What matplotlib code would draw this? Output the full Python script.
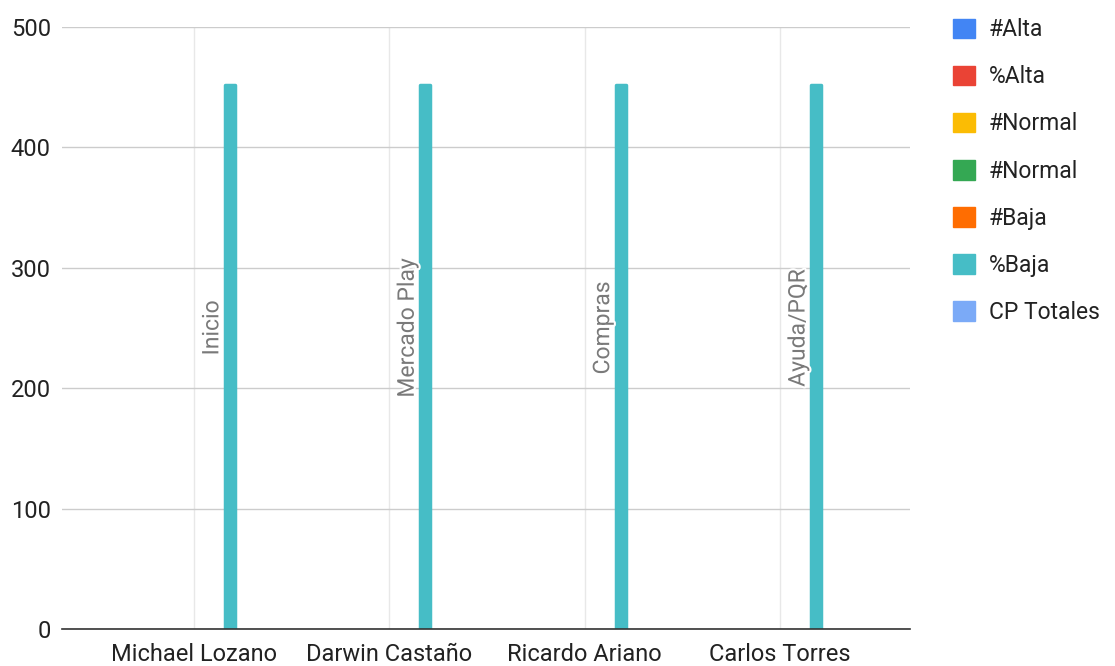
import matplotlib.pyplot as plt
import matplotlib.patheffects as pe
from matplotlib.patches import Patch
import numpy as np

plt.rcParams['font.family'] = ['Roboto', 'DejaVu Sans']

# Data
categories = ['Michael Lozano', 'Darwin Castaño', 'Ricardo Ariano', 'Carlos Torres']
series_names = ['#Alta', '%Alta', '#Normal', '#Normal', '#Baja', '%Baja', 'CP Totales']
series_colors = ['#4285F4', '#EA4335', '#FBBC04', '#34A853', '#FF6D01', '#46BDC6', '#7BAAF7']
alta_n = [0, 0, 0, 0]
alta_p = [0, 0, 0, 0]
normal_n = [0, 0, 0, 0]
normal_n2 = [0, 0, 0, 0]
baja_n = [0, 0, 0, 0]
baja_p = [452, 452, 452, 452]
cp_totales = [0, 0, 0, 0]
bar_labels = ['Inicio', 'Mercado Play', 'Compras', 'Ayuda/PQR']
label_height = 250

values = [alta_n, alta_p, normal_n, normal_n2, baja_n, baja_p, cp_totales]

fig = plt.figure(figsize=(11.15, 6.66), dpi=100)
ax = fig.add_axes([62 / 1115, 1 - 629 / 666, 848 / 1115, 602 / 666])

x = np.arange(len(categories))
slot = 0.092
for i, (vals, col) in enumerate(zip(values, series_colors)):
    offs = (i - 3) * slot
    ax.bar(x + offs, vals, width=0.052, color=col, edgecolor=col,
           linewidth=[2.5 if v > 0 else 0 for v in vals], joinstyle='round', zorder=3)

# rotated labels (sit at the #Baja slot)
for xi, lab in zip(x, bar_labels):
    ax.text(xi + (4 - 3) * slot, label_height, lab, rotation=90,
            ha='center', va='center', fontsize=16.5, color='#7a7a7a', zorder=4,
            path_effects=[pe.withStroke(linewidth=3, foreground='white')])

ax.set_xlim(-0.675, 3.665)
ax.set_ylim(0, 500)
ax.set_yticks([0, 100, 200, 300, 400, 500])
ax.set_xticks(x)
ax.set_xticklabels(categories)
ax.tick_params(axis='both', length=0, labelsize=17, colors='#222222')
ax.tick_params(axis='y', pad=8)
ax.tick_params(axis='x', pad=10)
ax.grid(axis='y', color='#cccccc', linewidth=1, zorder=0)
ax.grid(axis='x', color='#e8e8e8', linewidth=1, zorder=0)
for s in ['top', 'right', 'left']:
    ax.spines[s].set_visible(False)
ax.spines['bottom'].set_color('#333333')
ax.spines['bottom'].set_linewidth(1.2)
ax.spines['bottom'].set_zorder(5)

handles = [Patch(facecolor=c, edgecolor=c, label=n) for c, n in zip(series_colors, series_names)]
fig.legend(handles=handles, loc='upper left', bbox_to_anchor=(935 / 1115, 1.0),
           frameon=False, fontsize=16.5, labelspacing=1.05, handlelength=0.95,
           handleheight=0.95, handletextpad=0.6, labelcolor='#222222', borderpad=0.3)

fig.savefig('out.png', dpi=100)
